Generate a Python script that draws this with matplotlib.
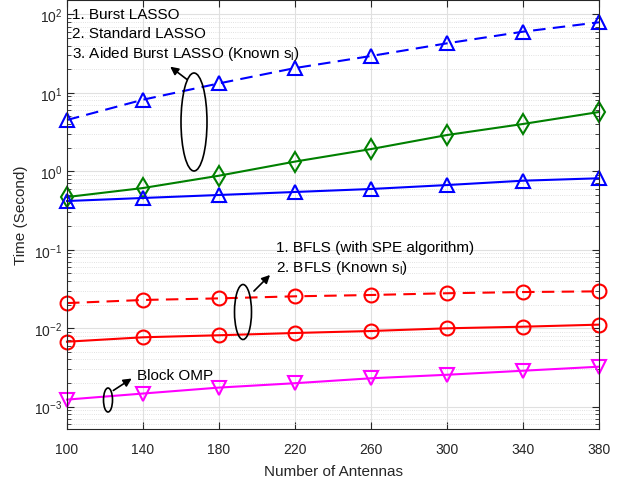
import matplotlib
matplotlib.use("Agg")
import matplotlib.pyplot as plt
from matplotlib.patches import Ellipse
import numpy as np

plt.rcParams['font.family'] = ['Liberation Sans', 'DejaVu Sans']
plt.rcParams['mathtext.default'] = 'regular'

antennas = [100, 140, 180, 220, 260, 300, 340, 380]
aided_burst_lasso = [4.51, 8.18, 13.2, 20.7, 29.5, 42.8, 60.2, 79.3]
standard_lasso = [0.47, 0.612, 0.879, 1.33, 1.92, 2.90, 4.01, 5.70]
burst_lasso = [0.418, 0.457, 0.499, 0.545, 0.595, 0.668, 0.759, 0.815]
bfls_spe = [0.0209, 0.0229, 0.0240, 0.0255, 0.0265, 0.0279, 0.0289, 0.0295]
bfls_known = [0.00673, 0.00766, 0.00813, 0.00869, 0.00921, 0.00997, 0.01045, 0.0111]
block_omp = [0.00123, 0.00147, 0.00175, 0.00199, 0.00230, 0.00255, 0.00287, 0.00323]
xticks = [100, 140, 180, 220, 260, 300, 340, 380]

W, H = 627, 481
fig = plt.figure(figsize=(W / 100, H / 100), dpi=100)
ax = fig.add_axes([67 / W, 1 - 430 / H, (599 - 67) / W, (430 - 1) / H])

ms = 10
lw = 1.5
common = dict(lw=lw, ms=ms, mfc='none', mew=1.5, clip_on=False)
dash = (0, (6, 3.5))
ax.semilogy(antennas, aided_burst_lasso, ls=dash, color='#0000FF', marker='^', **common)
ax.semilogy(antennas, standard_lasso, '-', color='#008000', marker='d', **common)
ax.semilogy(antennas, burst_lasso, '-', color='#0000FF', marker='^', **common)
ax.semilogy(antennas, bfls_spe, ls=dash, color='#FF0000', marker='o', **common)
ax.semilogy(antennas, bfls_known, '-', color='#FF0000', marker='o', **common)
ax.semilogy(antennas, block_omp, '-', color='#FF00FF', marker='v', **common)

ax.set_xlim(100, 380)
ax.set_ylim(5.19e-4, 152.6)
ax.set_xticks(xticks)
ax.set_xticklabels([str(v) for v in xticks])
ax.grid(True, which='major', color='#e0e0e0', lw=0.8)
ax.grid(True, which='minor', axis='y', color='#d8d8d8', lw=0.6, ls=':')
ax.tick_params(which='both', direction='in', top=True, right=True, labelsize=10, colors='#262626')
ax.tick_params(which='major', length=5)
ax.tick_params(which='minor', length=3)
ax.tick_params(axis='x', pad=9)
for s in ax.spines.values():
    s.set_color('#262626')
    s.set_linewidth(0.8)
ax.set_xlabel('Number of Antennas', fontsize=11, color='#262626', labelpad=6)
ax.set_ylabel('Time (Second)', fontsize=11, color='#262626')
ax.set_axisbelow(True)

# overlay in pixel coordinates for annotations
ov = fig.add_axes([0, 0, 1, 1])
ov.set_xlim(0, W)
ov.set_ylim(H, 0)
ov.axis('off')
ov.patch.set_alpha(0)

fs = 11
ov.text(72, 15, '1. Burst LASSO', fontsize=fs, va='center', ha='left')
ov.text(72, 34, '2. Standard LASSO', fontsize=fs, va='center', ha='left')
ov.text(72, 54, '3. Aided Burst LASSO (Known s$_l$)', fontsize=fs, va='center', ha='left')
ov.add_patch(Ellipse((194, 123), 26, 98, fill=False, ec='black', lw=1.2))
ov.annotate('', xy=(168, 66), xytext=(189, 82),
            arrowprops=dict(arrowstyle='-|>', color='black', lw=1.2, mutation_scale=12))

ov.text(276, 248, '1. BFLS (with SPE algorithm)', fontsize=fs, va='center', ha='left')
ov.text(276, 268, '2. BFLS (Known s$_l$)', fontsize=fs, va='center', ha='left')
ov.add_patch(Ellipse((243, 313), 17, 55, fill=False, ec='black', lw=1.2))
ov.annotate('', xy=(272, 274), xytext=(252, 294),
            arrowprops=dict(arrowstyle='-|>', color='black', lw=1.2, mutation_scale=12))

ov.text(137, 376, 'Block OMP', fontsize=fs, va='center', ha='left')
ov.add_patch(Ellipse((108, 401), 9, 24, fill=False, ec='black', lw=1.2))
ov.annotate('', xy=(134, 378), xytext=(111, 393),
            arrowprops=dict(arrowstyle='-|>', color='black', lw=1.2, mutation_scale=12))

fig.savefig('out.png', dpi=100)
